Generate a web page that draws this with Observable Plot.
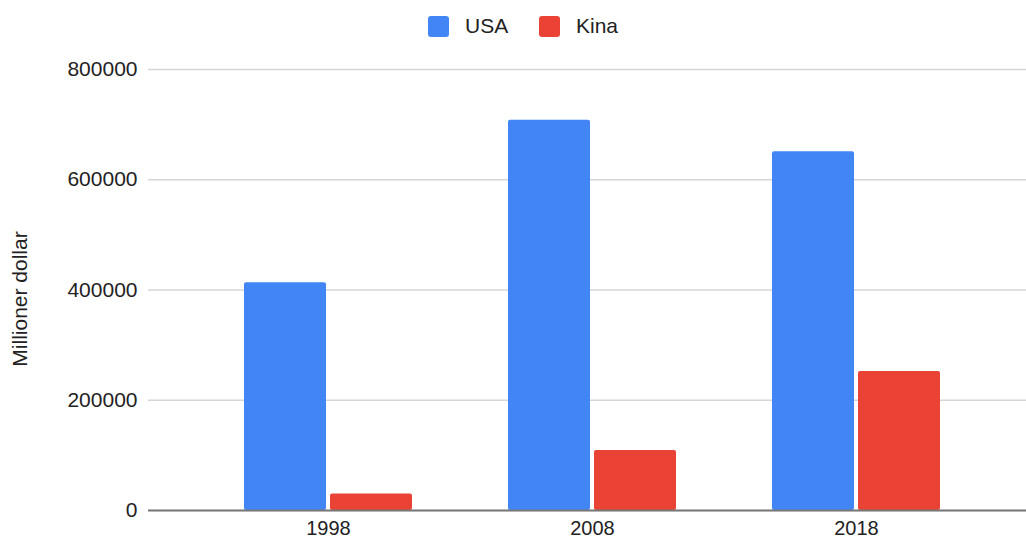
<!DOCTYPE html>
<html><head><meta charset="utf-8">
<script src="https://cdn.jsdelivr.net/npm/d3@7"></script>
<script src="https://cdn.jsdelivr.net/npm/@observablehq/plot@0.6"></script>
<style>
body{margin:0;background:#fff;font-family:"Liberation Sans",Arial,sans-serif;}
#legend{height:48px;position:relative;}
.item{position:absolute;top:15px;height:22px;display:flex;align-items:center;font-size:21px;color:#222;}
.sw{width:21px;height:21px;border-radius:3px;margin-right:16px;}
</style></head><body>
<div id="legend"></div><div id="chart"></div>
<script>
const years = ["1998", "2008", "2018"];
const series = ["USA", "Kina"];
const usa = [413000, 708000, 651000];
const kina = [30000, 109000, 252000];
const colors = ["#4285F4", "#EA4335"];
const yTicks = [0, 200000, 400000, 600000, 800000];
const yLabel = "Millioner dollar";

const data = years.flatMap((y, i) => [
  {year: y, series: series[0], value: usa[i]},
  {year: y, series: series[1], value: kina[i]}
]);

// legend
const legend = document.getElementById("legend");
const legendLeft = [428, 539];
series.forEach((s, i) => {
  const it = document.createElement("div");
  it.className = "item";
  it.style.left = legendLeft[i] + "px";
  const sw = document.createElement("span");
  sw.className = "sw";
  sw.style.background = colors[i];
  const tx = document.createElement("span");
  tx.textContent = s;
  it.appendChild(sw); it.appendChild(tx);
  legend.appendChild(it);
});

const chart = Plot.plot({
  width: 1026,
  height: 491,
  marginLeft: 148,
  marginRight: 0,
  marginTop: 21,
  marginBottom: 29,
  style: {fontFamily: "'Liberation Sans', Arial, sans-serif", fontSize: "21px", color: "#222", background: "#fff"},
  x: {domain: years, paddingInner: 0.362, paddingOuter: 0.3377, align: 0.53},
  y: {domain: [0, 800000]},
  color: {domain: series, range: colors},
  marks: [
    Plot.gridY({ticks: yTicks, stroke: "#d6d6d6", strokeOpacity: 1, strokeWidth: 1.5}),
    Plot.barY(data.filter(d => d.series === series[0]), {x: "year", y: "value", fill: "series", insetLeft: 0, insetRight: 86, rx: 2}),
    Plot.barY(data.filter(d => d.series === series[1]), {x: "year", y: "value", fill: "series", insetLeft: 86, insetRight: 0, rx: 2}),
    Plot.ruleY([0], {stroke: "#777", strokeWidth: 2}),
    Plot.axisY({ticks: yTicks, tickSize: 0, tickPadding: 11, tickFormat: d3.format("d"), label: null}),
    Plot.text([yLabel], {frameAnchor: "left", rotate: -90, dx: -136, dy: 9, lineAnchor: "top", textAnchor: "middle", fill: "#222"}),
    Plot.axisX({tickSize: 0, tickPadding: 10, label: null, fontSize: 20})
  ]
});
document.getElementById("chart").appendChild(chart);
</script>
</body></html>
